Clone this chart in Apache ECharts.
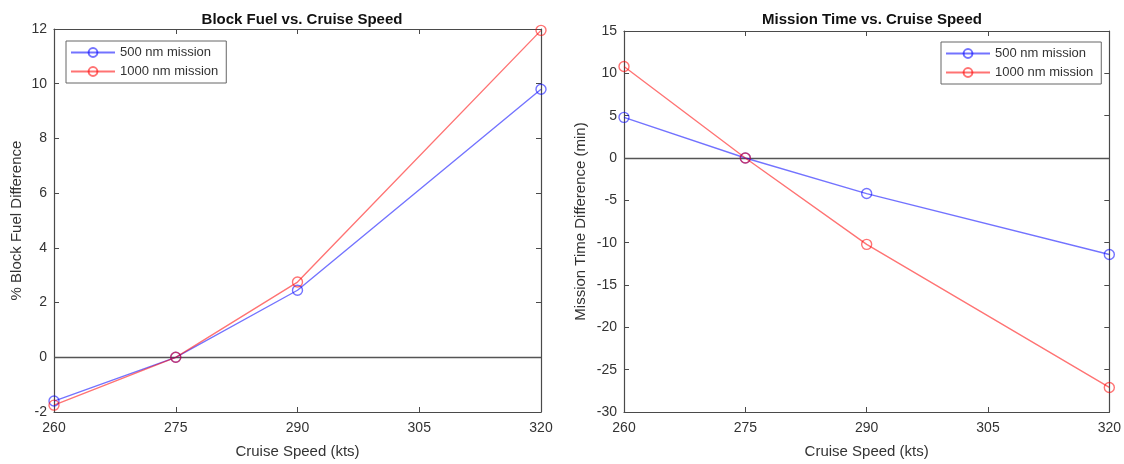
<!DOCTYPE html>
<html>
<head>
<meta charset="utf-8">
<script src="https://cdn.jsdelivr.net/npm/echarts@6/dist/echarts.min.js"></script>
<style>
html,body{margin:0;padding:0;background:#fff;}
#chart{width:1124px;height:464px;}
</style>
</head>
<body>
<div id="chart"></div>
<script>
const speeds = [260, 275, 290, 320];
const xTicks = [260, 275, 290, 305, 320];
const fuel500 = [-1.6, 0, 2.45, 9.8];
const fuel1000 = [-1.75, 0, 2.75, 11.95];
const time500 = [4.8, 0, -4.2, -11.4];
const time1000 = [10.8, 0, -10.2, -27.1];
const seriesNames = ['500 nm mission', '1000 nm mission'];

const FONT = '"Liberation Sans", Arial, sans-serif';
const AX = '#4a4a4a';
const TXT = '#333';
const BLUE = 'rgba(0,0,255,0.55)';
const RED = 'rgba(255,0,0,0.55)';

function pairs(xs, ys){ return xs.map((x,i)=>[x, ys[i]]); }

function xAxisPair(gridIndex){
  const base = {
    type:'value', gridIndex, min:260, max:320,
    axisLine:{show:true, onZero:false, lineStyle:{color:AX, width:1.2}},
    splitLine:{show:false},
    axisTick:{show:true, inside:true, length:5, lineStyle:{color:AX}, customValues:xTicks},
  };
  return [
    Object.assign({}, base, {
      position:'bottom',
      axisLabel:{show:true, color:TXT, fontSize:14, fontFamily:FONT, margin:9, customValues:xTicks},
      name:'Cruise Speed (kts)', nameLocation:'middle', nameGap:32,
      nameTextStyle:{color:TXT, fontSize:15, fontFamily:FONT}
    }),
    Object.assign({}, base, {position:'top', axisLabel:{show:false}})
  ];
}
function yAxisPair(gridIndex, min, max, interval, name, gap){
  const base = {
    type:'value', gridIndex, min, max, interval,
    axisLine:{show:true, onZero:false, lineStyle:{color:AX, width:1.2}},
    splitLine:{show:false},
    axisTick:{show:true, inside:true, length:5, lineStyle:{color:AX}},
  };
  return [
    Object.assign({}, base, {
      position:'left',
      axisLabel:{show:true, color:TXT, fontSize:14, fontFamily:FONT, margin:7},
      name, nameLocation:'middle', nameGap:gap, nameRotate:90,
      nameTextStyle:{color:TXT, fontSize:15, fontFamily:FONT}
    }),
    Object.assign({}, base, {position:'right', axisLabel:{show:false}})
  ];
}
function lineSeries(name, data, color, xi, yi, zero){
  const s = {
    name, type:'line', data, xAxisIndex:xi, yAxisIndex:yi,
    symbol:'circle', symbolSize:10, showSymbol:true,
    lineStyle:{color, width:1.4},
    itemStyle:{color:'rgba(255,255,255,0)', borderColor:color, borderWidth:1.4},
    emphasis:{disabled:true}, animation:false, z:3
  };
  if(zero){
    s.markLine = {silent:true, symbol:'none', label:{show:false}, animation:false,
      lineStyle:{color:'#555', type:'solid', width:1.3}, data:[{yAxis:0}], z:1};
  }
  return s;
}
function legendAt(left, top){
  return {
    left, top, orient:'vertical', data:seriesNames,
    itemWidth:44, itemHeight:11, itemGap:6,
    backgroundColor:'#fff', borderColor:'#666', borderWidth:1,
    padding:[5,8,5,4],
    textStyle:{color:TXT, fontSize:13, fontFamily:FONT},
    selectedMode:false
  };
}

const chart = echarts.init(document.getElementById('chart'), null, {renderer:'canvas'});
chart.setOption({
  backgroundColor:'#fff',
  animation:false,
  title:[
    {text:'Block Fuel vs. Cruise Speed', left:297, top:7, textAlign:'center',
     textStyle:{fontSize:15, fontWeight:'bold', color:'#111', fontFamily:FONT}},
    {text:'Mission Time vs. Cruise Speed', left:867, top:7, textAlign:'center',
     textStyle:{fontSize:15, fontWeight:'bold', color:'#111', fontFamily:FONT}}
  ],
  legend:[legendAt(66, 41), legendAt(941, 42)],
  grid:[
    {left:54, top:29, width:487, height:385},
    {left:624, top:31, width:486, height:383}
  ],
  xAxis:[...xAxisPair(0), ...xAxisPair(1)],
  yAxis:[...yAxisPair(0, -2, 12, 2, '% Block Fuel Difference', 30),
         ...yAxisPair(1, -30, 15, 5, 'Mission Time Difference (min)', 36)],
  series:[
    lineSeries(seriesNames[0], pairs(speeds, fuel500), BLUE, 0, 0, true),
    lineSeries(seriesNames[1], pairs(speeds, fuel1000), RED, 0, 0, false),
    lineSeries(seriesNames[0], pairs(speeds, time500), BLUE, 2, 2, true),
    lineSeries(seriesNames[1], pairs(speeds, time1000), RED, 2, 2, false)
  ]
});
</script>
</body>
</html>
